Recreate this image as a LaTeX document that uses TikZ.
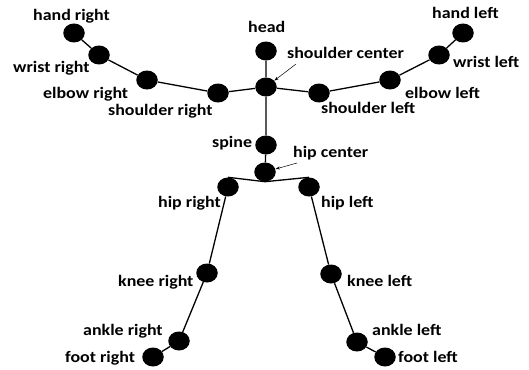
\documentclass[tikz,border=0pt]{standalone}
\usepackage{fontspec}
\usepackage{graphicx}
\setmainfont{Carlito}
\usetikzlibrary{shapes.geometric,arrows.meta}
\newcommand\lbltxt[1]{\scalebox{1.12}[1]{#1}}
\begin{document}
\begin{tikzpicture}[x=1pt,y=-1pt,
  joint/.style={ellipse,fill=black,draw=none,minimum width=21.5pt,minimum height=19pt,inner sep=0pt},
  lbl/.style={anchor=base west,inner sep=0pt,font=\fontsize{16}{19}\selectfont\bfseries},
  bone/.style={line width=1.3pt},
  pointer/.style={line width=0.5pt,-{Stealth[length=4.5pt,width=3pt]}}]
\useasboundingbox (0,0) rectangle (529,369);
% joints
\node[joint] (hr) at (74,33) {};
\node[joint] (wr) at (99,55) {};
\node[joint] (er) at (147,80) {};
\node[joint] (sr) at (218,93) {};
\node[joint] (hd) at (266,51) {};
\node[joint] (sc) at (266,87) {};
\node[joint] (sl) at (319,93) {};
\node[joint] (el) at (390,80) {};
\node[joint] (wl) at (439,55) {};
\node[joint] (hl) at (463,33) {};
\node[joint] (sp) at (266,145) {};
\node[joint] (hc) at (265,172) {};
\node[joint] (hpr) at (228,187) {};
\node[joint] (hpl) at (309,187) {};
\node[joint] (kr) at (207,273) {};
\node[joint] (kl) at (331,274) {};
\node[joint] (ar) at (179,341) {};
\node[joint] (al) at (357,342) {};
\node[joint] (fr) at (153,357) {};
\node[joint] (fl) at (385,357) {};
% bones
\draw[bone] (hr) -- (wr) -- (er) -- (sr) -- (sc) -- (sl) -- (el) -- (wl) -- (hl);
\draw[bone] (hd) -- (sc) -- (sp) -- (hc);
\draw[bone] (hc.south) -- (hpr.north);
\draw[bone] (hc.south) -- (hpl.north);
\draw[bone] (hpr) -- (kr) -- (ar) -- (fr);
\draw[bone] (hpl) -- (kl) -- (al) -- (fl);
% labels
\node[lbl] (thr) at (33,21) {\lbltxt{hand right}};
\node[lbl] (twr) at (13,72) {\lbltxt{wrist right}};
\node[lbl] (ter) at (43,98) {\lbltxt{elbow right}};
\node[lbl] (tsr) at (108,115) {\lbltxt{shoulder right}};
\node[lbl] (thd) at (248,33) {\lbltxt{head}};
\node[lbl] (tsc) at (287,58) {\lbltxt{shoulder center}};
\node[lbl] (thl) at (432,19) {\lbltxt{hand left}};
\node[lbl] (twl) at (453,67) {\lbltxt{wrist left}};
\node[lbl] (tel) at (405,98) {\lbltxt{elbow left}};
\node[lbl] (tsl) at (321,113) {\lbltxt{shoulder left}};
\node[lbl] (tsp) at (212,147) {\lbltxt{spine}};
\node[lbl] (thc) at (293,157) {\lbltxt{hip center}};
\node[lbl] (thpr) at (158,207) {\lbltxt{hip right}};
\node[lbl] (thpl) at (321,207) {\lbltxt{hip left}};
\node[lbl] (tkr) at (118,286) {\lbltxt{knee right}};
\node[lbl] (tkl) at (347,286) {\lbltxt{knee left}};
\node[lbl] (tar) at (83,335) {\lbltxt{ankle right}};
\node[lbl] (tal) at (372,335) {\lbltxt{ankle left}};
\node[lbl] (tfr) at (65,362) {\lbltxt{foot right}};
\node[lbl] (tfl) at (398,362) {\lbltxt{foot left}};
% pointers
\coordinate (scp) at (296,64);
\coordinate (hcp) at (297,163);
\draw[pointer] (scp) -- (sc);
\draw[pointer] (hcp) -- (hc);
\end{tikzpicture}
\end{document}
